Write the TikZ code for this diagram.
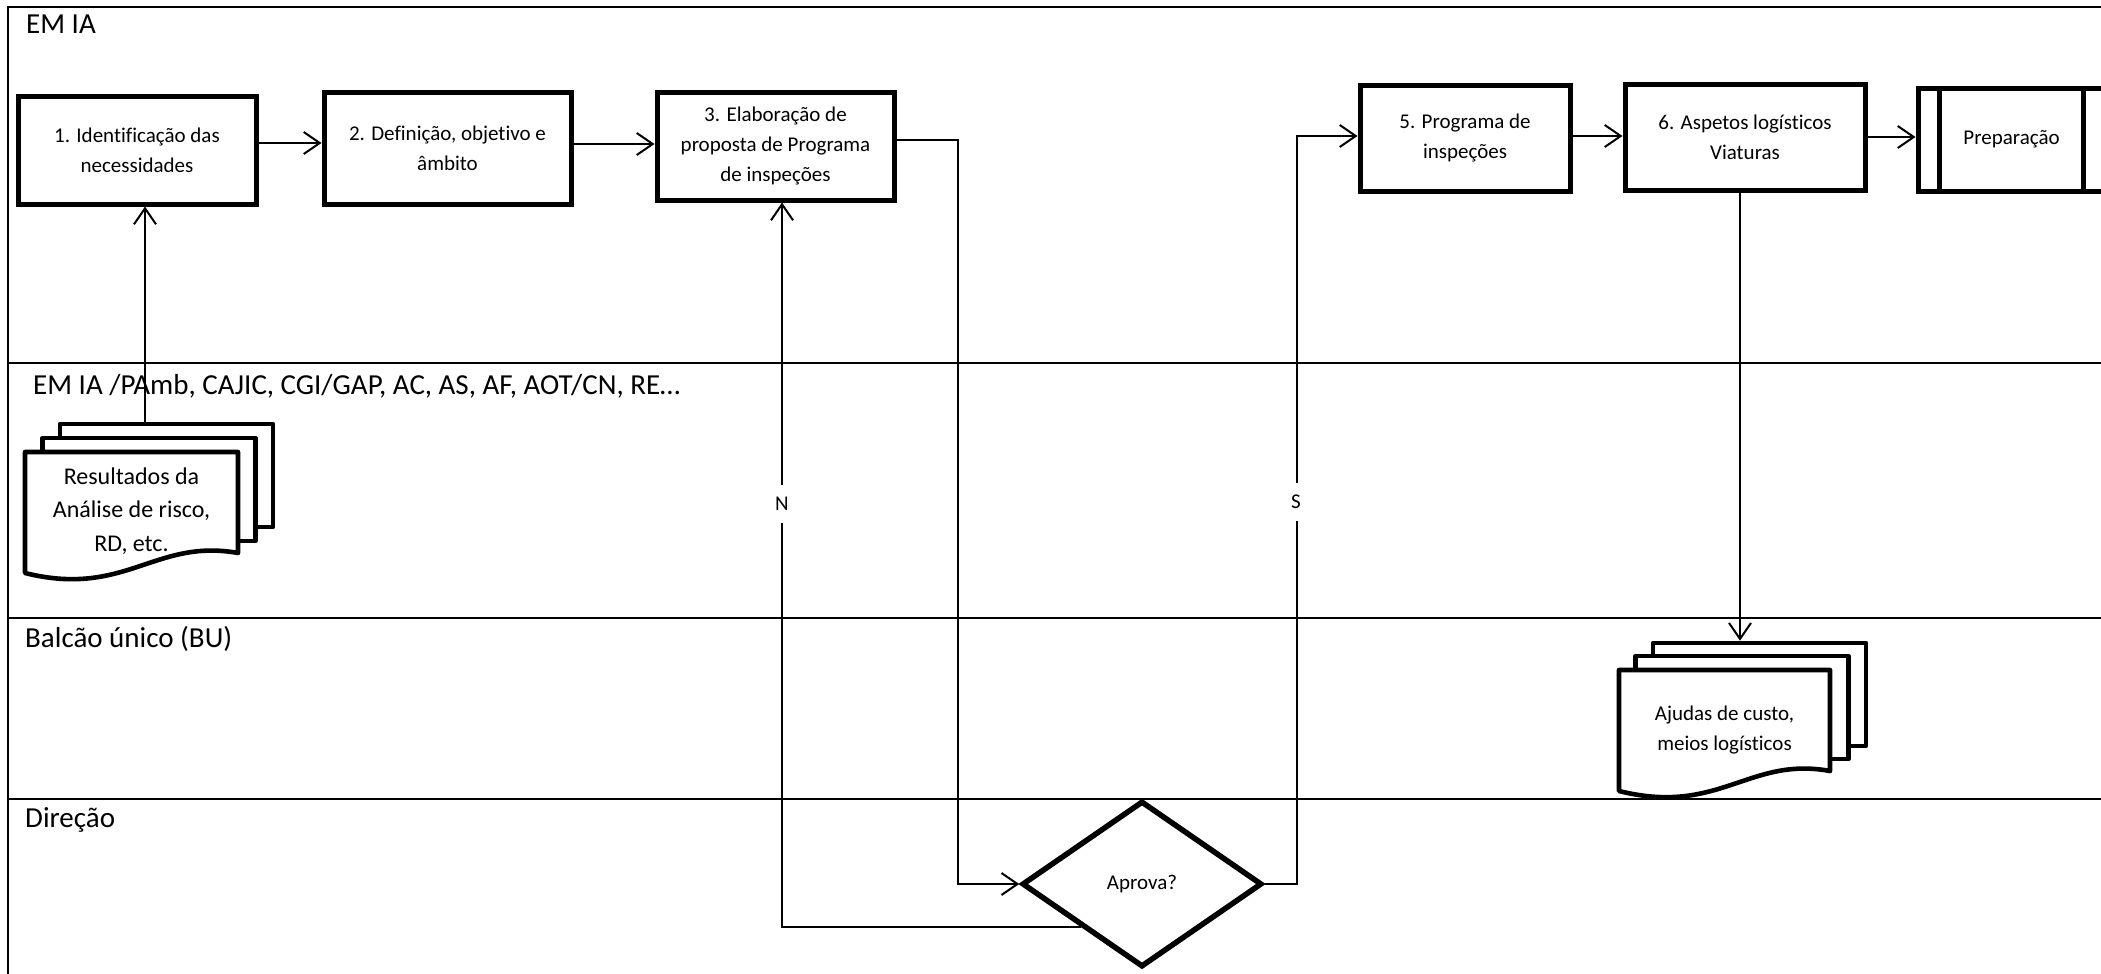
\documentclass[tikz,border=0pt]{standalone}
\usepackage{fontspec}
\setmainfont{Carlito}[Ligatures=CommonOff]
\usetikzlibrary{arrows.meta,shapes.geometric}
\begin{document}
\begin{tikzpicture}[x=1pt,y=-1pt,
  lane/.style={line width=2.4pt},
  lanelabel/.style={anchor=base west, inner sep=0pt, font=\fontsize{29}{35}\selectfont},
  box/.style={draw, line width=5pt, fill=white, align=center, inner sep=0pt, font=\fontsize{21}{30}\selectfont},
  sheet/.style={draw, line width=4.6pt, fill=white, line join=round},
  sheetbox/.style={minimum width=213pt, minimum height=103pt, inner sep=0pt},
  doctext/.style={align=center, inner sep=0pt, font=\fontsize{21}{30}\selectfont},
  arr/.style={line width=2pt, -{Straight Barb[length=16pt,width=22pt]}},
  answer/.style={fill=white, inner xsep=4pt, inner ysep=12pt, font=\fontsize{21}{25}\selectfont}
]
\useasboundingbox (0,0) rectangle (2101,974);
\fill[white] (0,0) rectangle (2101,974);

% pool frame and lane separators
\draw[lane] (8,980) -- (8,7) -- (2110,7);
\draw[lane] (8,363) -- (2110,363);
\draw[lane] (8,618) -- (2110,618);
\draw[lane] (8,799) -- (2110,799);

% lane titles
\node[lanelabel] (l1) at (26,34) {EM IA};
\node[lanelabel] (l2) at (33,394) {EM IA /PAmb, CAJIC, CGI/GAP, AC, AS, AF, AOT/CN, RE…};
\node[lanelabel] (l3) at (25,647) {Balcão único (BU)};
\node[lanelabel] (l4) at (25,827) {Direção};

% document stack: risk analysis results
\node[sheet, sheetbox] (rs3) at (166.5,475.5) {};
\node[sheet, sheetbox] (rs2) at (149,489.5) {};
\draw[sheet] (25,452) -- (25,573) .. controls (125,598) and (155,538) .. (238,553) -- (238,452) -- cycle;
\node[doctext, font=\fontsize{24}{33.5}\selectfont] (rs1) at (131.5,511) {Resultados da\\Análise de risco,\\RD, etc.};

% document stack: travel costs and logistics
\node[sheet, sheetbox] (aj3) at (1759.5,694.5) {};
\node[sheet, sheetbox] (aj2) at (1742,707.5) {};
\draw[sheet] (1619,670) -- (1619,791) .. controls (1719,816) and (1749,756) .. (1830,771) -- (1830,670) -- cycle;
\node[doctext] (aj1) at (1724.5,730) {Ajudas de custo,\\meios logísticos};

% process steps
\node[box, minimum width=238pt, minimum height=108pt] (b1) at (137,150) {1. Identificação das\\necessidades};
\node[box, minimum width=247pt, minimum height=112pt] (b2) at (447.5,148) {2. Definição, objetivo e\\âmbito};
\node[box, minimum width=237pt, minimum height=108pt] (b3) at (775.5,146) {3. Elaboração de\\proposta de Programa\\de inspeções};
\node[box, minimum width=210pt, minimum height=106pt] (b5) at (1465,138) {5. Programa de\\inspeções};
\node[box, minimum width=240pt, minimum height=106pt] (b6) at (1745,137) {6. Aspetos logísticos\\Viaturas};
\node[box, minimum width=187pt, minimum height=103pt] (prep) at (2011.5,139.5) {Preparação};
\draw[line width=5pt] ([xshift=24pt]prep.north west) -- ([xshift=24pt]prep.south west);
\draw[line width=5pt] ([xshift=-24pt]prep.north east) -- ([xshift=-24pt]prep.south east);

% decision
\node[draw, diamond, line width=5.5pt, fill=white, minimum width=240pt, minimum height=166pt,
      inner sep=0pt, font=\fontsize{21}{25}\selectfont] (d) at (1142,884) {Aprova?};

% connectors
\coordinate (c1) at ([xshift=8pt]b1.south);
\coordinate (c6) at ([xshift=-5pt]b6.south);
\draw[arr] ([yshift=7pt]b1.east) -- ([yshift=5pt]b2.west);
\draw[arr] ([yshift=4pt]b2.east) -- ([yshift=2pt]b3.west);
\draw[arr] ([yshift=2pt]b5.east) -- ([yshift=1pt]b6.west);
\draw[arr] (b6.east) -- (prep.west |- b6.east);
\draw[arr] (c1 |- rs3.north) -- (c1);
\draw[arr] ([yshift=6pt]b3.east) -- ++(61,0) |- (d.west);
\draw[arr] (d.south west) -| ([xshift=6.5pt]b3.south);
\draw[arr] (d.east) -- ++(32,0) |- ([yshift=2pt]b5.west);
\draw[arr] (c6) -- (c6 |- aj3.north);

% answer labels
\node[answer] (n) at (782,504) {N};
\node[answer] (s) at (1296,502) {S};
\end{tikzpicture}
\end{document}
